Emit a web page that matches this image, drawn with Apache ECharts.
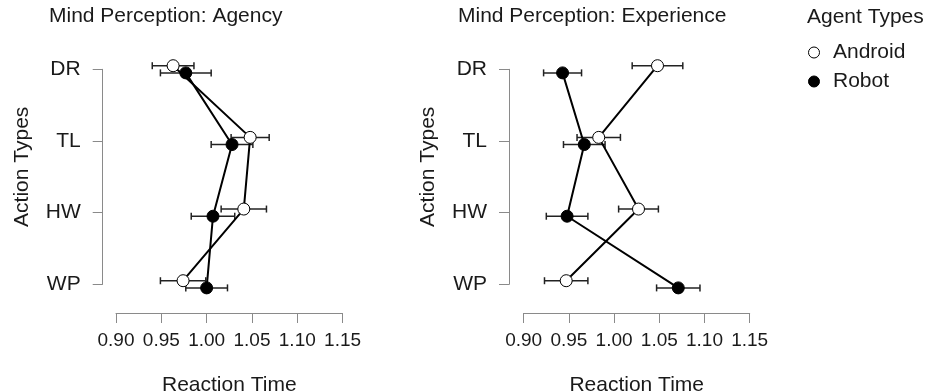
<!DOCTYPE html>
<html>
<head>
<meta charset="utf-8">
<script src="https://cdn.jsdelivr.net/npm/echarts@6/dist/echarts.min.js"></script>
<style>html,body{margin:0;padding:0;background:#fff}#c{width:930px;height:392px}</style>
</head>
<body>
<div id="c"></div>
<script>
// ---- data ----
var categories = ['DR', 'TL', 'HW', 'WP'];
var xTicks = [0.90, 0.95, 1.00, 1.05, 1.10, 1.15];
var panelTitles = ['Mind Perception: Agency', 'Mind Perception: Experience'];
var agentTypes = ['Android', 'Robot'];

var agencyAndroid = [0.963, 1.048, 1.041, 0.974];
var agencyAndroidErr = [0.023, 0.021, 0.025, 0.025];
var agencyRobot = [0.977, 1.028, 1.007, 1.000];
var agencyRobotErr = [0.028, 0.023, 0.024, 0.023];

var experienceAndroid = [1.048, 0.983, 1.027, 0.947];
var experienceAndroidErr = [0.028, 0.024, 0.022, 0.024];
var experienceRobot = [0.943, 0.967, 0.948, 1.071];
var experienceRobotErr = [0.021, 0.023, 0.023, 0.024];

// ---- chart ----
var FONT = 'Liberation Sans, Arial, sans-serif';
var DODGE = 0.05; // vertical dodge between agent types (category units)
var AXIS_COLOR = '#8a8a8a';
var TEXT_COLOR = '#1a1a1a';

var chart = echarts.init(document.getElementById('c'), null, {renderer: 'canvas'});

function pts(vals, dodge) {
  return vals.map(function (v, i) { return [v, i + dodge]; });
}
function errs(vals, e, dodge) {
  return vals.map(function (v, i) { return [v - e[i], v + e[i], i + dodge]; });
}
function errorRender(params, api) {
  var y = api.value(2);
  var p1 = api.coord([api.value(0), y]);
  var p2 = api.coord([api.value(1), y]);
  var h = 3.5;
  var st = {stroke: '#222', lineWidth: 1.5};
  return {
    type: 'group',
    children: [
      {type: 'line', shape: {x1: p1[0], y1: p1[1], x2: p2[0], y2: p2[1]}, style: st},
      {type: 'line', shape: {x1: p1[0], y1: p1[1] - h, x2: p1[0], y2: p1[1] + h}, style: st},
      {type: 'line', shape: {x1: p2[0], y1: p2[1] - h, x2: p2[0], y2: p2[1] + h}, style: st}
    ]
  };
}

var panels = [
  {android: agencyAndroid, androidErr: agencyAndroidErr, robot: agencyRobot, robotErr: agencyRobotErr},
  {android: experienceAndroid, androidErr: experienceAndroidErr, robot: experienceRobot, robotErr: experienceRobotErr}
];
var grids = [
  {left: 116, top: 69.3, width: 226.6, height: 215, outerBoundsMode: 'none', containLabel: false},
  {left: 523.7, top: 69.3, width: 226, height: 215, outerBoundsMode: 'none', containLabel: false}
];
var yOffsets = [13.3, 14.7];

var xAxes = [], yAxes = [], series = [];
panels.forEach(function (p, k) {
  xAxes.push({
    gridIndex: k, type: 'value', position: 'bottom', min: xTicks[0], max: xTicks[xTicks.length - 1], interval: 0.05,
    offset: 28.7,
    name: 'Reaction Time', nameLocation: 'middle', nameGap: 62,
    nameTextStyle: {fontFamily: FONT, fontSize: 21, color: TEXT_COLOR},
    axisLine: {show: true, onZero: false, lineStyle: {color: AXIS_COLOR, width: 1}},
    axisTick: {show: true, length: 10, lineStyle: {color: AXIS_COLOR, width: 1}},
    axisLabel: {fontFamily: FONT, fontSize: 19, color: TEXT_COLOR, margin: 18,
      formatter: function (v) { return v.toFixed(2); }},
    splitLine: {show: false}
  });
  yAxes.push({
    gridIndex: k, type: 'value', position: 'left', min: 0, max: categories.length - 1, interval: 1, inverse: true,
    offset: yOffsets[k],
    name: 'Action Types', nameLocation: 'middle', nameGap: 70, nameRotate: 90,
    nameTextStyle: {fontFamily: FONT, fontSize: 21, color: TEXT_COLOR, padding: [0, 0, 0, 20]},
    axisLine: {show: true, onZero: false, lineStyle: {color: AXIS_COLOR, width: 1}},
    axisTick: {show: true, length: 10, lineStyle: {color: AXIS_COLOR, width: 1}},
    axisLabel: {fontFamily: FONT, fontSize: 21, color: TEXT_COLOR, margin: 22,
      formatter: function (v) { return categories[Math.round(v)] || ''; }},
    splitLine: {show: false}
  });
  var sets = [
    {name: 'Android', vals: p.android, err: p.androidErr, dodge: -DODGE, fill: '#ffffff'},
    {name: 'Robot', vals: p.robot, err: p.robotErr, dodge: DODGE, fill: '#000000'}
  ];
  sets.forEach(function (s) {
    series.push({
      type: 'custom', name: s.name + ' error', xAxisIndex: k, yAxisIndex: k,
      renderItem: errorRender, data: errs(s.vals, s.err, s.dodge),
      encode: {x: [0, 1], y: 2}, z: 1, silent: true
    });
  });
  sets.forEach(function (s) {
    series.push({
      type: 'line', name: s.name + ' line', xAxisIndex: k, yAxisIndex: k,
      data: pts(s.vals, s.dodge), showSymbol: false, symbol: 'none', clip: false,
      lineStyle: {color: '#000', width: 2}, z: 2, silent: true, animation: false
    });
  });
  sets.forEach(function (s) {
    series.push({
      type: 'scatter', name: s.name, xAxisIndex: k, yAxisIndex: k,
      data: pts(s.vals, s.dodge), symbol: 'circle', symbolSize: 12, clip: false,
      itemStyle: {color: s.fill, borderColor: '#000', borderWidth: 1, opacity: 1}, z: 3
    });
  });
});

chart.setOption({
  animation: false,
  backgroundColor: '#fff',
  title: [
    {text: panelTitles[0], left: 49, top: 6, padding: 0, textStyle: {fontFamily: FONT, fontSize: 21, fontWeight: 'normal', color: TEXT_COLOR}},
    {text: panelTitles[1], left: 458, top: 6, padding: 0, textStyle: {fontFamily: FONT, fontSize: 21, fontWeight: 'normal', color: TEXT_COLOR}},
    {text: 'Agent Types', left: 807, top: 7, padding: 0, textStyle: {fontFamily: FONT, fontSize: 21, fontWeight: 'normal', color: TEXT_COLOR}}
  ],
  legend: {
    orient: 'vertical', left: 803, top: 37, itemWidth: 28, itemHeight: 11, itemGap: 8,
    selectedMode: false,
    textStyle: {fontFamily: FONT, fontSize: 21, color: TEXT_COLOR},
    data: [
      {name: agentTypes[0], icon: 'circle', itemStyle: {color: '#fff', borderColor: '#000', borderWidth: 1}},
      {name: agentTypes[1], icon: 'circle', itemStyle: {color: '#000', borderColor: '#000', borderWidth: 1}}
    ]
  },
  grid: grids,
  xAxis: xAxes,
  yAxis: yAxes,
  series: series
});
</script>
</body>
</html>
